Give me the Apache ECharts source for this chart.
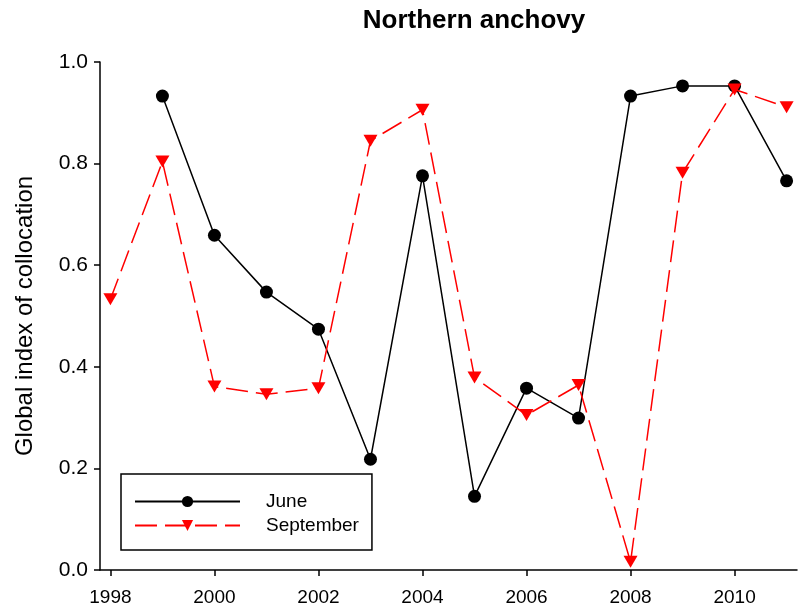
<!DOCTYPE html>
<html>
<head>
<meta charset="utf-8">
<script src="https://cdn.jsdelivr.net/npm/echarts@6/dist/echarts.min.js"></script>
<style>html,body{margin:0;padding:0;background:#fff}#c{width:798px;height:612px}</style>
</head>
<body>
<div id="c"></div>
<script>
const titleText = 'Northern anchovy';
const yAxisTitle = 'Global index of collocation';
const juneYears = [1999, 2000, 2001, 2002, 2003, 2004, 2005, 2006, 2007, 2008, 2009, 2010, 2011];
const juneValues = [0.933, 0.659, 0.547, 0.474, 0.218, 0.776, 0.145, 0.358, 0.299, 0.933, 0.953, 0.953, 0.766];
const septYears = [1998, 1999, 2000, 2001, 2002, 2003, 2004, 2005, 2006, 2007, 2008, 2009, 2010, 2011];
const septValues = [0.533, 0.804, 0.361, 0.346, 0.358, 0.845, 0.906, 0.379, 0.305, 0.364, 0.016, 0.782, 0.946, 0.911];
const xTickValues = [1998, 2000, 2002, 2004, 2006, 2008, 2010];
const yTickLabels = ['0.0', '0.2', '0.4', '0.6', '0.8', '1.0'];

const FONT = 'Liberation Sans, Arial, sans-serif';
const chart = echarts.init(document.getElementById('c'), null, {renderer: 'canvas'});
chart.setOption({
  animation: false,
  backgroundColor: '#ffffff',
  title: {
    text: titleText,
    left: 469, top: 3, textAlign: 'center',
    textStyle: {fontFamily: FONT, fontSize: 26, fontWeight: 'bold', color: '#000'}
  },
  grid: {left: 100, right: 1, top: 62, bottom: 42, containLabel: false},
  xAxis: {
    type: 'value', min: 1997.8, max: 2011.2,
    splitLine: {show: false},
    axisLine: {onZero: false, lineStyle: {color: '#000', width: 1.5}},
    axisTick: {show: true, length: 6, inside: false, customValues: xTickValues, lineStyle: {color: '#000', width: 1.5}},
    axisLabel: {customValues: xTickValues, margin: 18, color: '#000', fontFamily: FONT, fontSize: 19,
      formatter: v => String(Math.round(v))}
  },
  yAxis: {
    type: 'value', min: 0, max: 1, interval: 0.2,
    name: yAxisTitle, nameLocation: 'middle', nameRotate: 90, nameGap: 63,
    nameTextStyle: {fontFamily: FONT, fontSize: 24, color: '#000'},
    splitLine: {show: false},
    axisLine: {show: true, lineStyle: {color: '#000', width: 1.5}},
    axisTick: {show: true, length: 6, inside: false, lineStyle: {color: '#000', width: 1.5}},
    axisLabel: {margin: 12, color: '#000', fontFamily: FONT, fontSize: 21,
      formatter: v => yTickLabels[Math.round(v * 5)]}
  },
  legend: {
    orient: 'vertical', left: 121, top: 474,
    borderColor: '#000', borderWidth: 1.5,
    padding: [18, 13, 15, 13], itemGap: 5,
    itemWidth: 105, itemHeight: 14,
    textStyle: {fontFamily: FONT, fontSize: 19, color: '#000', padding: [0, 0, 0, 21]},
    data: ['June', 'September']
  },
  series: [
    {
      name: 'June', type: 'line',
      data: juneYears.map((y, i) => [y, juneValues[i]]),
      symbol: 'circle', symbolSize: 13,
      itemStyle: {color: '#000'},
      lineStyle: {color: '#000', width: 1.5},
      z: 2
    },
    {
      name: 'September', type: 'line',
      data: septYears.map((y, i) => [y, septValues[i]]),
      symbol: 'triangle', symbolRotate: 180, symbolSize: [14, 12],
      itemStyle: {color: '#ff0000'},
      lineStyle: {color: '#ff0000', width: 1.5, type: [22, 8]},
      z: 3
    }
  ]
});
</script>
</body>
</html>
